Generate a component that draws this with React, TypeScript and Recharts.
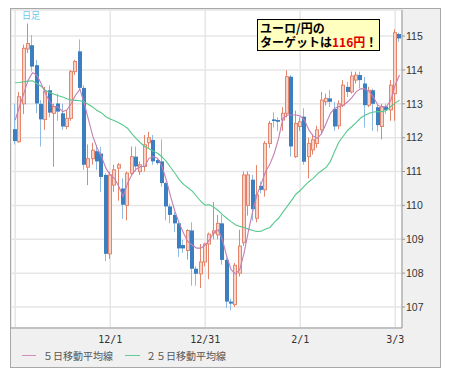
import { ComposedChart, Bar, Line, XAxis, YAxis, CartesianGrid } from "recharts";

// x axis: trading-day index, labels only at month marks
const tickIdx = [0, 22, 44, 66, 88];
const tickLabels = ["", "12/1", "12/31", "2/1", "3/3"];
const priceTicks = [107, 108, 109, 110, 111, 112, 113, 114, 115];

const opens = [
  112.25, 111.88, 113.0, 114.62, 114.73, 114.14, 113.0, 112.54, 113.4, 112.72,
  113.01, 112.72, 112.33, 112.57, 113.95, 114.55, 113.47, 111.13, 111.38, 111.6,
  111.53, 110.9, 108.57, 110.6, 111.1, 110.5, 110.0, 110.95, 111.44, 111.0,
  111.15, 111.85, 111.93, 111.34, 111.3, 110.66, 109.97, 109.72, 109.47, 108.83,
  108.67, 109.26, 108.13, 107.98, 108.33, 108.86, 109.18, 109.13, 109.47, 108.39,
  107.16, 107.07, 108.0, 108.9, 110.0, 110.76, 109.62, 110.58, 110.46, 111.83,
  112.54, 112.52, 112.52, 112.72, 113.8, 111.44, 112.33, 112.62, 111.44, 111.64,
  111.83, 112.23, 113.06, 113.16, 112.85, 112.35, 112.96, 113.5, 113.35, 113.7,
  113.85, 113.6, 112.96, 113.4, 112.9, 112.33, 112.92, 112.82, 113.3, 115.06,
];
const highs = [
  113.0, 113.35, 114.75, 115.37, 115.03, 114.3, 113.11, 113.5, 113.55, 113.0,
  113.3, 113.0, 112.82, 114.0, 114.3, 114.9, 113.55, 111.8, 111.85, 111.78,
  111.73, 110.95, 111.0, 111.2, 111.25, 110.8, 111.0, 111.74, 111.74, 111.3,
  112.08, 112.17, 112.08, 111.4, 111.95, 110.7, 110.05, 109.8, 109.5, 108.98,
  109.3, 109.5, 108.2, 108.86, 108.9, 109.2, 110.1, 109.72, 109.72, 108.45,
  107.25, 108.3, 109.28, 111.0, 111.0, 110.9, 111.19, 110.7, 111.9, 112.5,
  112.75, 112.6, 112.9, 113.99, 113.85, 112.8, 112.6, 112.87, 112.0, 112.1,
  112.35, 113.35, 113.3, 113.41, 113.05, 113.1, 113.7, 113.65, 113.95, 113.95,
  113.95, 113.8, 113.5, 113.45, 113.0, 113.0, 113.0, 113.7, 115.2, 115.1,
];
const lows = [
  111.8, 111.85, 112.7, 114.5, 113.95, 112.72, 111.74, 112.23, 112.6, 111.14,
  112.5, 112.23, 112.25, 112.5, 113.85, 113.4, 111.05, 110.6, 111.2, 111.05,
  110.4, 108.35, 108.42, 110.4, 110.14, 109.6, 109.56, 110.9, 111.0, 110.9,
  111.0, 111.7, 111.2, 111.2, 110.55, 109.56, 109.47, 109.22, 108.48, 108.6,
  108.4, 107.63, 107.63, 107.56, 108.2, 107.82, 109.0, 109.0, 108.25, 106.97,
  106.9, 107.0, 107.9, 108.8, 109.7, 109.55, 109.5, 110.35, 110.26, 111.7,
  112.3, 112.2, 112.2, 112.6, 111.44, 111.4, 112.2, 111.2, 110.8, 111.5,
  111.7, 112.1, 112.95, 112.9, 112.2, 112.25, 112.9, 113.2, 113.3, 113.6,
  113.45, 112.3, 112.9, 112.2, 112.18, 111.95, 112.7, 112.5, 112.5, 114.83,
];
const closes = [
  111.9, 113.21, 114.64, 114.78, 114.1, 113.01, 112.54, 113.36, 112.74, 112.92,
  112.77, 112.33, 112.57, 113.95, 114.25, 113.47, 111.2, 111.38, 111.63, 111.3,
  110.84, 108.57, 110.9, 111.05, 111.2, 110.02, 110.95, 111.44, 111.15, 111.2,
  111.79, 112.0, 111.3, 111.25, 110.66, 109.97, 109.72, 109.47, 108.73, 108.73,
  109.26, 108.13, 107.98, 108.33, 108.86, 109.15, 109.25, 109.47, 108.39, 107.16,
  107.1, 108.23, 108.8, 110.9, 110.9, 109.89, 110.31, 110.46, 111.83, 112.42,
  112.49, 112.47, 112.72, 113.8, 111.74, 112.42, 112.47, 111.29, 111.83, 111.94,
  112.23, 113.11, 113.16, 113.06, 112.33, 113.0, 113.55, 113.35, 113.82, 113.85,
  113.7, 112.96, 113.4, 113.0, 112.37, 112.92, 112.82, 113.55, 115.1, 114.93,
];
const ma5 = [
  112.52, 112.92, 113.31, 113.7, 113.92, 113.85, 113.6, 113.31, 113.06, 112.92,
  112.9, 112.77, 112.82, 113.01, 113.26, 113.43, 113.01, 112.52, 112.03, 111.69,
  111.44, 111.1, 110.9, 110.8, 110.56, 110.26, 110.65, 110.9, 111.07, 111.15,
  111.15, 111.39, 111.44, 111.39, 111.15, 110.75, 110.26, 109.82, 109.47, 109.18,
  108.93, 108.83, 108.74, 108.74, 108.83, 108.98, 109.2, 109.28, 108.98, 108.49,
  108.1, 107.98, 108.1, 108.59, 109.23, 109.82, 110.31, 110.65, 111.0, 111.22,
  111.54, 111.98, 112.57, 112.67, 112.67, 112.67, 112.64, 112.52, 112.23, 112.05,
  111.98, 112.13, 112.42, 112.72, 112.87, 112.92, 112.96, 113.06, 113.19, 113.36,
  113.44, 113.44, 113.36, 113.19, 112.96, 112.9, 112.92, 113.11, 113.55, 113.85,
];
const ma25 = [
  113.62, 113.63, 113.65, 113.67, 113.68, 113.6, 113.52, 113.4, 113.33, 113.28,
  113.24, 113.2, 113.15, 113.11, 113.1, 113.09, 113.05, 112.98, 112.9, 112.8,
  112.73, 112.62, 112.55, 112.5, 112.44, 112.37, 112.28, 112.12, 111.98, 111.85,
  111.74, 111.67, 111.6, 111.54, 111.43, 111.3, 111.12, 110.95, 110.76, 110.62,
  110.52, 110.42, 110.27, 110.12, 110.01, 110.02, 109.95, 109.85, 109.73, 109.62,
  109.52, 109.43, 109.38, 109.35, 109.3, 109.26, 109.23, 109.24, 109.3, 109.35,
  109.5, 109.62, 109.8, 109.97, 110.15, 110.33, 110.44, 110.58, 110.7, 110.8,
  110.93, 111.03, 111.12, 111.3, 111.6, 111.88, 112.05, 112.22, 112.33, 112.45,
  112.58, 112.66, 112.72, 112.76, 112.77, 112.77, 112.8, 112.92, 113.02, 113.11,
];

const rows = opens.map((o, i) => ({
  i,
  open: o,
  high: highs[i],
  low: lows[i],
  close: closes[i],
  range: [lows[i], highs[i]],
  ma5: ma5[i],
  ma25: ma25[i],
}));

const UP_LINE = "#e5866c";
const UP_FILL = "#f7d3c9";
const DOWN_FILL = "#3b7fc0";
const DOWN_WICK = "#8fbbe2";
const MA5_COLOR = "#c47fb4";
const MA25_COLOR = "#55c98c";

function Candle(props: any) {
  const { x, y, width, height, payload } = props;
  if (!payload || height == null) return null;
  const { open, close, high, low } = payload;
  const k = height / (high - low);
  const yOf = (v: number) => y + (high - v) * k;
  const left = Math.round(x + width / 2) - 2;
  const cx = left + 1.5;
  const up = close >= open;
  const top = yOf(Math.max(open, close));
  const bot = yOf(Math.min(open, close));
  const bh = Math.max(bot - top, 1);
  if (up) {
    return (
      <g>
        <line x1={cx} x2={cx} y1={y} y2={y + height} stroke={UP_LINE} strokeWidth={1} />
        <rect x={left + 0.5} y={top} width={3} height={bh} fill={UP_FILL} stroke={UP_LINE} strokeWidth={1} />
      </g>
    );
  }
  return (
    <g>
      <line x1={cx} x2={cx} y1={y} y2={y + height} stroke={DOWN_WICK} strokeWidth={1} />
      <rect x={left} y={top} width={4} height={bh} fill={DOWN_FILL} />
    </g>
  );
}

const cjk = "'Noto Sans CJK JP', 'Noto Sans', sans-serif";

export default function App() {
  return (
    <div
      style={{
        position: "relative",
        marginLeft: 2,
        width: 429,
        height: 358,
        border: "1px solid #a8a8a8",
        background: "#f0f0f0",
        fontFamily: cjk,
      }}
    >
      <ComposedChart width={429} height={358} data={rows} margin={{ top: 1, right: 0, left: 0, bottom: 0 }}>
        <CartesianGrid fill="#fff" stroke="#e6e6e6" strokeWidth={1.5} />
        <XAxis
          dataKey="i"
          type="number"
          domain={[-0.97, 89.58]}
          allowDataOverflow
          ticks={tickIdx}
          tickFormatter={(v: number) => tickLabels[tickIdx.indexOf(v)] ?? ""}
          height={39}
          axisLine={{ stroke: "#999" }}
          tickLine={false}
          tickSize={6}
          tickMargin={2}
          tick={{ fontSize: 10, fill: "#333", fontFamily: "'DejaVu Sans Mono', monospace" }}
        />
        <YAxis
          orientation="right"
          width={38}
          domain={[106.38, 115.77]}
          allowDataOverflow
          ticks={priceTicks}
          axisLine={{ stroke: "#999" }}
          tickLine={{ stroke: "#999" }}
          tickSize={3}
          tickMargin={1}
          tick={{ fontSize: 10.5, fill: "#333", fontFamily: "'Liberation Sans', sans-serif", textAnchor: "start" }}
        />
        <Bar dataKey="range" barSize={4} shape={<Candle />} isAnimationActive={false} />
        <Line dataKey="ma25" type="linear" stroke={MA25_COLOR} strokeWidth={1.1} dot={false} isAnimationActive={false} />
        <Line dataKey="ma5" type="linear" stroke={MA5_COLOR} strokeWidth={1.1} dot={false} isAnimationActive={false} />
      </ComposedChart>

      <div style={{ position: "absolute", left: 11, top: 1, fontSize: 9, lineHeight: "12px", color: "#6cc8ee" }}>日足</div>

      <div
        style={{
          position: "absolute",
          left: 246,
          top: 10,
          width: 123,
          height: 32,
          boxSizing: "border-box",
          border: "1px solid #000",
          background: "#ffffc0",
          padding: "1px 2px",
          fontSize: 12,
          lineHeight: "14px",
          fontWeight: 700,
          color: "#000",
          whiteSpace: "nowrap",
        }}
      >
        <div>ユーロ/円の</div>
        <div>
          ターゲットは<span style={{ color: "#e00000" }}>116円</span>！
        </div>
      </div>

      <div style={{ position: "absolute", left: 11, top: 346, width: 14, height: 1, background: "#d08ebd" }} />
      <div style={{ position: "absolute", left: 32, top: 340, fontSize: 10, lineHeight: "13px", color: "#555" }}>
        ５日移動平均線
      </div>
      <div style={{ position: "absolute", left: 114, top: 346, width: 15, height: 1, background: "#5fcf96" }} />
      <div style={{ position: "absolute", left: 135, top: 340, fontSize: 10, lineHeight: "13px", color: "#555" }}>
        ２５日移動平均線
      </div>
    </div>
  );
}
